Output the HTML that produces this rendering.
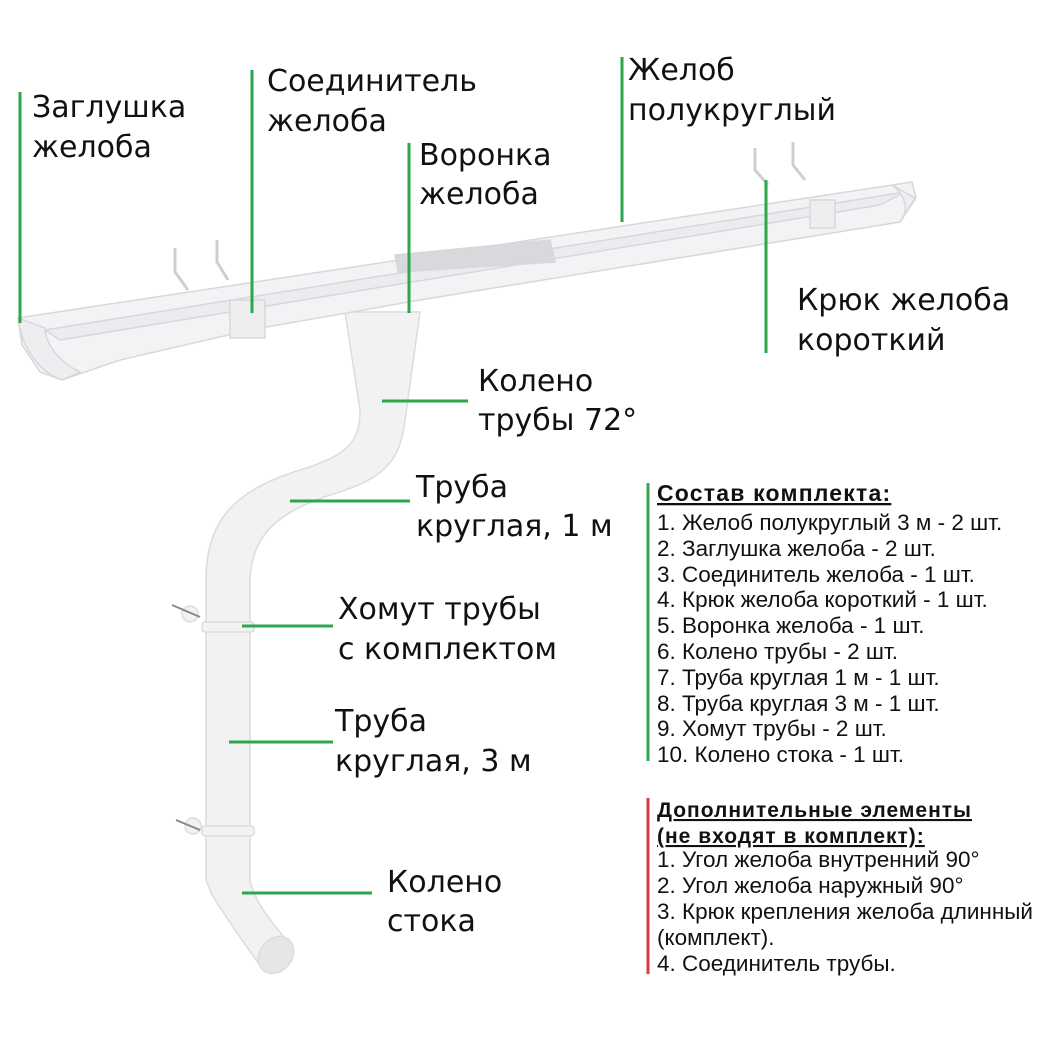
<!DOCTYPE html>
<html><head><meta charset="utf-8">
<style>
html,body{margin:0;padding:0;background:#fff;}
body{width:1050px;height:1050px;position:relative;overflow:hidden;}
svg{position:absolute;left:0;top:0;}
.l{font-family:"DejaVu Sans","Liberation Sans",sans-serif;font-size:30px;fill:#111;}
.s{font-family:"Liberation Sans",Arial,sans-serif;font-size:22.5px;fill:#111;}
.h{font-family:"Liberation Sans",Arial,sans-serif;font-weight:bold;fill:#111;text-decoration:underline;}
</style></head><body>
<svg width="1050" height="1050" viewBox="0 0 1050 1050">
<!-- downpipe -->
<g fill="#f2f2f3" stroke="#dcdcde" stroke-width="1.5">
<path d="M345,312 L420,312 L405,420 C400,465 380,480 330,495 C270,515 252,540 250,580 L250,880 C255,905 275,925 290,945 L262,968 C245,945 228,920 212,895 L206,880 L206,580 C206,520 235,490 300,470 C350,455 360,440 360,410 Z"/>
<ellipse cx="276" cy="955" rx="16" ry="20" fill="#e6e6e8" transform="rotate(40 276 955)"/>
<rect x="202" y="622" width="52" height="10" rx="3"/>
<rect x="202" y="826" width="52" height="10" rx="3"/>
<circle cx="190" cy="614" r="8"/><circle cx="193" cy="826" r="8"/>
</g>
<line x1="172" y1="605" x2="200" y2="617" stroke="#888" stroke-width="2"/>
<line x1="176" y1="820" x2="200" y2="830" stroke="#888" stroke-width="2"/>
<!-- gutter -->
<g stroke="#d8d8dc" stroke-width="1.5">
<path d="M18,318 L912,182 L916,198 L900,222 L420,300 L250,330 L120,360 L62,380 L40,372 L22,345 Z" fill="#f3f3f5"/>
<path d="M45,330 L905,192 L880,205 L60,340 Z" fill="#ececef"/>
<path d="M395,255 L550,240 L555,262 L398,272 Z" fill="#d9d9dd"/>
<path d="M18,318 C22,350 40,372 62,380 L80,372 C55,360 45,340 45,328 Z" fill="#eeeef0"/>
<path d="M892,185 C905,195 910,210 900,222 L915,198 Z" fill="#eeeef0"/>
<rect x="230" y="300" width="35" height="38" fill="#eeeef0"/>
<rect x="810" y="200" width="25" height="28" fill="#eeeef0"/>
</g>
<g stroke="#cfcfd3" stroke-width="3" fill="none">
<path d="M175,248 L175,272 L188,290"/><path d="M217,240 L217,262 L228,280"/>
<path d="M755,148 L755,170 L768,185"/><path d="M793,142 L793,165 L805,180"/>
</g>
<!-- green leaders -->
<g stroke="#2ea64e" stroke-width="3">
<line x1="20" y1="92" x2="20" y2="323"/>
<line x1="252" y1="70" x2="252" y2="313"/>
<line x1="409" y1="143" x2="409" y2="313"/>
<line x1="622" y1="57" x2="622" y2="222"/>
<line x1="766" y1="180" x2="766" y2="353"/>
<line x1="382" y1="401" x2="468" y2="401"/>
<line x1="290" y1="501" x2="410" y2="501"/>
<line x1="242" y1="626" x2="333" y2="626"/>
<line x1="229" y1="742" x2="333" y2="742"/>
<line x1="242" y1="893" x2="372" y2="893"/>
<line x1="648" y1="483" x2="648" y2="761"/>
</g>
<line x1="648" y1="798" x2="648" y2="974" stroke="#d93a3a" stroke-width="3"/>
<!-- labels -->
<g class="l">
<text x="32" y="117">Заглушка</text><text x="32" y="157">желоба</text>
<text x="267" y="91">Соединитель</text><text x="267" y="131">желоба</text>
<text x="419" y="165">Воронка</text><text x="419" y="204">желоба</text>
<text x="628" y="80">Желоб</text><text x="628" y="120">полукруглый</text>
<text x="797" y="310">Крюк желоба</text><text x="797" y="350">короткий</text>
<text x="478" y="391">Колено</text><text x="478" y="430">трубы 72°</text>
<text x="416" y="497">Труба</text><text x="416" y="536">круглая, 1 м</text>
<text x="338" y="619">Хомут трубы</text><text x="338" y="659">с комплектом</text>
<text x="335" y="731">Труба</text><text x="335" y="771">круглая, 3 м</text>
<text x="387" y="892">Колено</text><text x="387" y="931">стока</text>
</g>
<text class="h" x="657" y="501" font-size="23" letter-spacing="1.2">Состав комплекта:</text>
<g class="s">
<text x="657" y="530">1. Желоб полукруглый 3 м - 2 шт.</text>
<text x="657" y="556">2. Заглушка желоба - 2 шт.</text>
<text x="657" y="582">3. Соединитель желоба - 1 шт.</text>
<text x="657" y="607">4. Крюк желоба короткий - 1 шт.</text>
<text x="657" y="633">5. Воронка желоба - 1 шт.</text>
<text x="657" y="659">6. Колено трубы - 2 шт.</text>
<text x="657" y="685">7. Труба круглая 1 м - 1 шт.</text>
<text x="657" y="711">8. Труба круглая 3 м - 1 шт.</text>
<text x="657" y="736">9. Хомут трубы - 2 шт.</text>
<text x="657" y="762">10. Колено стока - 1 шт.</text>
</g>
<text class="h" x="657" y="817" font-size="21" letter-spacing="1">Дополнительные элементы</text>
<text class="h" x="657" y="843" font-size="21" letter-spacing="1">(не входят в комплект):</text>
<g class="s">
<text x="657" y="867">1. Угол желоба внутренний 90°</text>
<text x="657" y="893">2. Угол желоба наружный 90°</text>
<text x="657" y="919">3. Крюк крепления желоба длинный</text>
<text x="657" y="945">(комплект).</text>
<text x="657" y="971">4. Соединитель трубы.</text>
</g>
</svg>
</body></html>
